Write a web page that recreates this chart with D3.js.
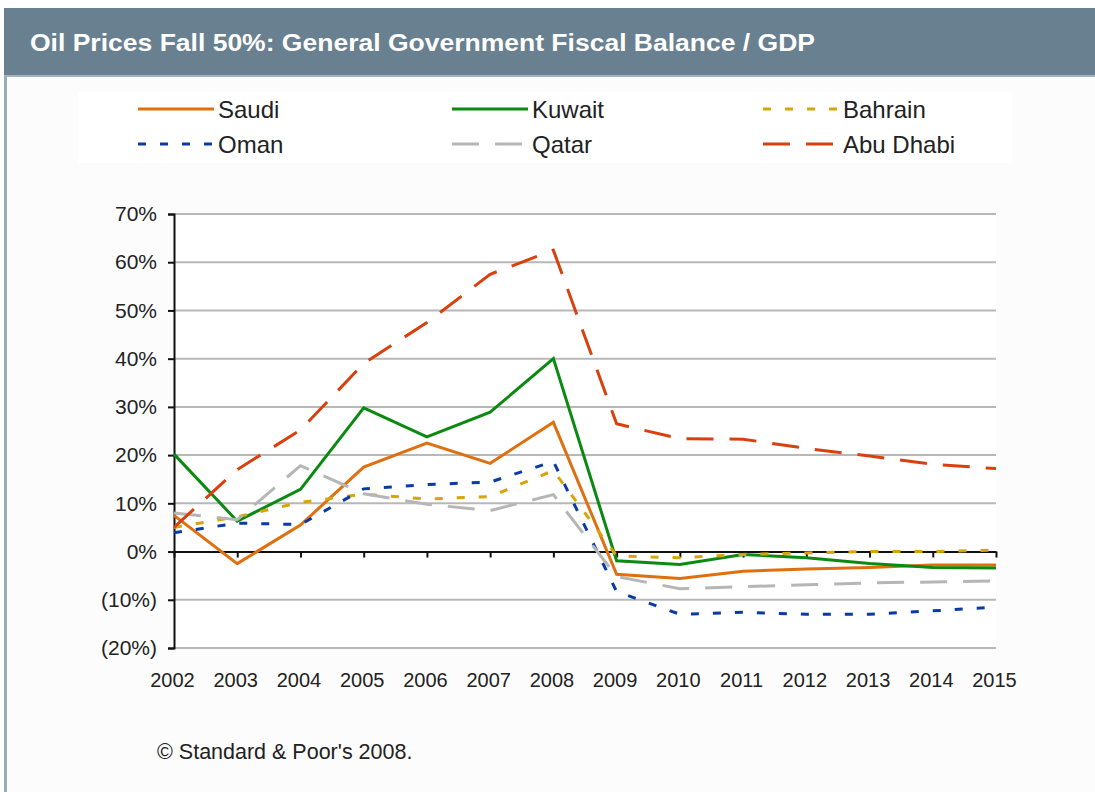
<!DOCTYPE html>
<html>
<head>
<meta charset="utf-8">
<script src="https://cdn.jsdelivr.net/npm/d3@7"></script>
<style>
  html, body { margin: 0; padding: 0; background: #ffffff; }
  svg { display: block; font-family: "Liberation Sans", Arial, sans-serif; }
</style>
</head>
<body>
<svg id="chart" width="1095" height="792"></svg>
<script>
// values (% of GDP)
var years = ["2002","2003","2004","2005","2006","2007","2008","2009","2010","2011","2012","2013","2014","2015"];
var saudi    = [7.5, -2.5, 5.5, 17.5, 22.5, 18.3, 26.8, -4.7, -5.6, -4.1, -3.6, -3.3, -2.8, -2.8];
var kuwait   = [20.2, 6.3, 12.9, 29.8, 23.8, 28.9, 40.0, -1.9, -2.7, -0.6, -1.3, -2.5, -3.3, -3.4];
var bahrain  = [5.0, 7.2, 10.2, 11.9, 10.9, 11.4, 16.8, -0.9, -1.3, -0.6, -0.3, 0.0, 0.0, 0.3];
var oman     = [3.9, 5.9, 5.6, 13.0, 13.9, 14.4, 18.7, -8.3, -13.0, -12.6, -13.0, -13.0, -12.3, -11.5];
var qatar    = [8.0, 6.6, 17.8, 12.0, 9.8, 8.5, 11.8, -5.2, -7.7, -7.3, -6.9, -6.5, -6.3, -6.1];
var abuDhabi = [5.0, 17.0, 25.2, 39.0, 47.5, 57.5, 62.5, 26.5, 23.4, 23.3, 21.4, 19.8, 18.1, 17.2];
var yTicks = [-20, -10, 0, 10, 20, 30, 40, 50, 60, 70];

var series = [
  {name: "Saudi",     values: saudi,    color: "#e0700f", dash: null},
  {name: "Kuwait",    values: kuwait,   color: "#0b8a12", dash: null},
  {name: "Bahrain",   values: bahrain,  color: "#d8a408", dash: "8,14"},
  {name: "Oman",      values: oman,     color: "#0a3aa4", dash: "8,14"},
  {name: "Qatar",     values: qatar,    color: "#b6b6b6", dash: "27,16"},
  {name: "Abu Dhabi", values: abuDhabi, color: "#d8400e", dash: "27,16"}
];

var svg = d3.select("#chart");

// page frame
svg.append("rect").attr("x", 4).attr("y", 77).attr("width", 1091).attr("height", 715).attr("fill", "#fcfcfc");
svg.append("rect").attr("x", 4).attr("y", 8).attr("width", 1091).attr("height", 69).attr("fill", "#68808f");
svg.append("rect").attr("x", 4).attr("y", 75).attr("width", 1091).attr("height", 2).attr("fill", "#a3b3bf");
svg.append("rect").attr("x", 4).attr("y", 77).attr("width", 3).attr("height", 715).attr("fill", "#9aabb8");

svg.append("text")
  .attr("x", 30).attr("y", 51)
  .attr("fill", "#ffffff")
  .attr("font-size", 24).attr("font-weight", "bold")
  .attr("textLength", 785).attr("lengthAdjust", "spacingAndGlyphs")
  .text("Oil Prices Fall 50%: General Government Fiscal Balance / GDP");

// legend
svg.append("rect").attr("x", 78).attr("y", 92).attr("width", 934).attr("height", 71).attr("fill", "#ffffff");
var legCols = [138, 452, 763];
var legRows = [109, 144];
var leg = svg.selectAll(".leg").data(series).enter().append("g")
  .attr("class", "leg")
  .attr("transform", function(d, i) {
    return "translate(" + legCols[i % 3] + "," + legRows[Math.floor(i / 3)] + ")";
  });
leg.append("line")
  .attr("x1", 0).attr("x2", 76).attr("y1", 0).attr("y2", 0)
  .attr("stroke", function(d) { return d.color; })
  .attr("stroke-width", 3)
  .attr("stroke-dasharray", function(d) { return d.dash; });
leg.append("text")
  .attr("x", 80).attr("y", 8.5)
  .attr("font-size", 24).attr("fill", "#222")
  .text(function(d) { return d.name; });

// plot
var x = d3.scalePoint().domain(years).range([174, 996]);
var y = d3.scaleLinear().domain([-20, 70]).range([648, 214]);

svg.append("rect").attr("x", 174).attr("y", 214).attr("width", 822).attr("height", 434).attr("fill", "#ffffff");

svg.append("g").selectAll("line").data(yTicks.filter(function(v) { return v !== 0; })).enter()
  .append("line")
  .attr("x1", 174).attr("x2", 996)
  .attr("y1", function(d) { return y(d); }).attr("y2", function(d) { return y(d); })
  .attr("stroke", "#b8b8b8").attr("stroke-width", 2);

var yAxis = d3.axisLeft(y).tickValues(yTicks).tickSize(6).tickPadding(11)
  .tickFormat(function(d) { return d < 0 ? "(" + Math.abs(d) + "%)" : d + "%"; });
var gy = svg.append("g").attr("transform", "translate(174,0)").call(yAxis);
gy.select(".domain").attr("stroke", "#111").attr("stroke-width", 2);
gy.selectAll(".tick line").attr("stroke", "#111").attr("stroke-width", 2);
gy.selectAll(".tick text").attr("font-size", 21).attr("fill", "#222").attr("font-family", "Liberation Sans, Arial, sans-serif");

var xAxis = d3.axisBottom(x).tickSize(6).tickSizeOuter(0).tickPadding(0);
var gx = svg.append("g").attr("transform", "translate(0," + y(0) + ")").call(xAxis);
gx.select(".domain").attr("stroke", "#111").attr("stroke-width", 2);
gx.selectAll(".tick line").attr("stroke", "#111").attr("stroke-width", 2);
gx.selectAll(".tick text")
  .attr("x", -2)
  .attr("y", 648 - y(0) + 39)
  .attr("dy", 0)
  .attr("font-size", 20).attr("fill", "#222").attr("font-family", "Liberation Sans, Arial, sans-serif");

var line = d3.line()
  .x(function(d, i) { return x(years[i]); })
  .y(function(d) { return y(d); });

svg.append("g").selectAll("path").data(series).enter().append("path")
  .attr("d", function(d) { return line(d.values); })
  .attr("fill", "none")
  .attr("stroke", function(d) { return d.color; })
  .attr("stroke-width", 3)
  .attr("stroke-dasharray", function(d) { return d.dash; });

svg.append("text")
  .attr("x", 157).attr("y", 759)
  .attr("font-size", 21.5).attr("fill", "#222")
  .text("\u00a9 Standard & Poor's 2008.");
</script>
</body>
</html>
